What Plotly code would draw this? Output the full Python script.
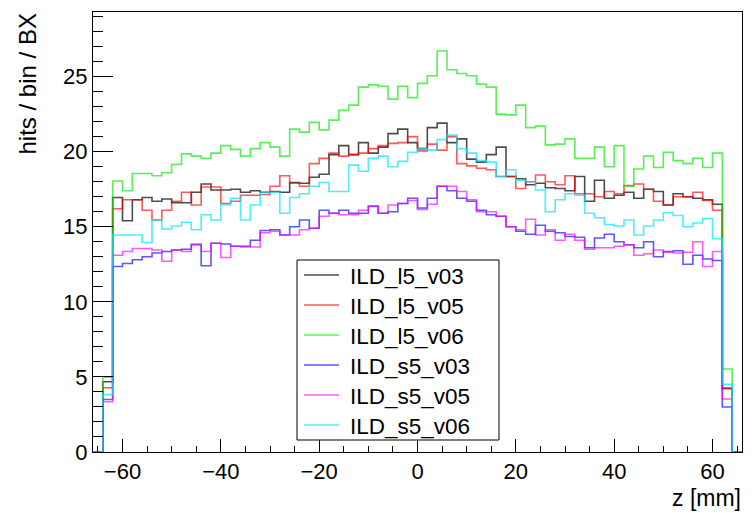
import numpy as np
import plotly.graph_objects as go

# histogram definition: 66 bins of 2 mm from -66 to 66
z_min, z_max, n_bins = -66.0, 66.0, 66
y_max = 29.3

names = ["ILD_l5_v03", "ILD_l5_v05", "ILD_l5_v06", "ILD_s5_v03", "ILD_s5_v05", "ILD_s5_v06"]

l5_v03 = [0, 4.68,
          16.95, 15.4, 16.8, 16.95, 16.7, 16.85, 16.6, 16.6, 17.3, 17.85, 17.45, 17.45, 17.5, 17.3, 17.4, 17.3,
          17.35, 17.3, 17.95, 17.9, 18.3, 18.5, 19.8, 20.4, 19.8, 20.6, 19.9, 20.3, 21.2, 21.5, 20.6, 20.2,
          21.6, 21.9, 20.6, 20.85, 19.5, 19.3, 19.8, 20.3, 18.35, 18.2, 17.8, 17.9, 17.6, 17.55, 17.4, 18.35,
          16.7, 18.1, 16.9, 17.1, 17.3, 16.9, 17.5, 17.35, 16.45, 17.2, 17.0, 16.9, 16.8, 16.5,
          4.24, 0]
l5_v05 = [0, 4.28,
          16.2, 16.8, 16.8, 16.1, 15.45, 16.1, 16.7, 17.3, 16.45, 17.65, 17.65, 16.55, 16.7, 17.1, 17.1, 17.15,
          17.7, 18.4, 17.9, 17.7, 19.2, 19.55, 19.9, 19.7, 19.8, 19.9, 20.2, 20.4, 20.55, 20.6, 21.0, 20.05,
          20.5, 20.1, 21.0, 19.2, 19.05, 18.9, 18.8, 18.35, 18.35, 17.55, 18.0, 18.45, 18.0, 17.8, 18.4, 17.2,
          17.2, 17.0, 17.35, 17.2, 17.75, 17.85, 17.5, 16.7, 16.45, 17.0, 17.0, 17.3, 16.75, 16.1,
          4.24, 0]
l5_v06 = [0, 4.98,
          18.05, 17.4, 18.55, 18.55, 18.4, 18.6, 19.15, 19.85, 19.7, 19.55, 19.9, 20.4, 20.15, 19.7, 20.2, 20.6,
          20.3, 19.7, 21.5, 21.3, 21.95, 21.45, 22.1, 22.75, 23.1, 24.3, 24.45, 24.35, 23.5, 24.35, 23.6, 24.55,
          25.05, 26.7, 25.45, 25.2, 25.05, 24.5, 24.3, 22.5, 22.45, 23.1, 21.6, 21.7, 20.45, 20.5, 20.85, 19.55,
          19.55, 20.3, 19.0, 20.4, 17.7, 18.85, 19.7, 18.95, 19.95, 19.4, 19.2, 19.55, 18.95, 19.9,
          5.53, 0]
s5_v03 = [0, 3.5,
          12.35, 12.55, 12.8, 13.0, 13.25, 13.35, 13.45, 13.5, 13.8, 12.4, 13.9, 13.85, 13.7, 13.7, 14.1, 14.75,
          14.8, 14.45, 15.0, 15.45, 14.9, 16.1, 15.9, 16.1, 15.9, 15.9, 16.35, 15.9, 16.0, 16.55, 16.9, 16.25,
          16.9, 17.7, 17.4, 16.9, 16.7, 16.1, 15.8, 15.7, 15.0, 14.7, 14.5, 15.1, 14.7, 14.6, 14.35, 14.3,
          13.6, 14.25, 14.5, 14.0, 13.8, 13.6, 14.0, 13.0, 13.35, 13.4, 12.5, 13.1, 12.85, 12.75,
          3.0, 0]
s5_v05 = [0, 3.35,
          13.1, 13.35, 13.55, 13.55, 13.45, 12.7, 13.45, 13.35, 13.85, 13.35, 13.9, 12.95, 13.7, 13.65, 13.65, 14.6,
          14.7, 14.45, 14.45, 14.8, 14.9, 15.7, 15.9, 15.8, 15.8, 16.1, 16.4, 15.9, 16.45, 16.55, 16.75, 16.15,
          16.5, 17.7, 17.7, 17.35, 16.8, 16.0, 16.0, 15.7, 15.0, 14.8, 15.5, 14.45, 14.8, 14.1, 14.5, 14.1,
          13.5, 13.6, 13.6, 13.7, 13.8, 13.1, 13.2, 13.45, 13.3, 13.25, 13.3, 14.0, 12.35, 13.35,
          3.53, 0]
s5_v06 = [0, 3.82,
          14.45, 14.45, 14.45, 13.95, 15.45, 14.85, 15.05, 15.3, 14.8, 15.8, 15.45, 16.45, 16.9, 15.45, 16.45, 17.3,
          17.3, 15.9, 16.95, 17.2, 17.7, 17.95, 17.35, 17.35, 19.1, 18.7, 19.55, 19.7, 19.0, 19.35, 19.95, 20.2,
          20.1, 20.8, 21.1, 20.2, 19.9, 19.4, 19.3, 18.35, 18.8, 18.1, 18.0, 17.45, 16.0, 16.8, 17.2, 17.1,
          15.9, 15.6, 15.15, 15.05, 15.45, 14.45, 15.05, 15.45, 15.95, 15.75, 15.0, 15.25, 15.55, 14.2,
          4.5, 0]

series = [l5_v03, l5_v05, l5_v06, s5_v03, s5_v05, s5_v06]
colors = ["rgba(0,0,0,0.7)", "rgba(255,0,0,0.65)", "rgba(0,230,0,0.65)",
          "rgba(0,0,255,0.65)", "rgba(255,0,255,0.65)", "rgba(0,230,255,0.7)"]

x_ticks = [-60, -40, -20, 0, 20, 40, 60]
x_tick_text = ["\u221260", "\u221240", "\u221220", "0", "20", "40", "60"]
y_ticks = [0, 5, 10, 15, 20, 25]

edges = np.linspace(z_min, z_max, n_bins + 1)

FONT = "Liberation Sans, Arial, Helvetica, sans-serif"

# plot-area geometry in pixels (for legend placement)
W, H = 752, 513
ML, MR, MT, MB = 93, 10, 12, 61
PW, PH = W - ML - MR, H - MT - MB


def px_x(p):
    return (p - ML) / PW


def px_y(p):
    return (H - MB - p) / PH


fig = go.Figure()
for name, vals, col in zip(names, series, colors):
    yv = list(vals) + [vals[-1]]
    fig.add_trace(go.Scatter(x=edges, y=yv, mode="lines", name=name,
                             line=dict(color=col, width=1.6, shape="hv")))

fig.update_layout(
    width=W, height=H,
    margin=dict(l=ML, r=MR, t=MT, b=MB),
    paper_bgcolor="white", plot_bgcolor="white",
    font=dict(family=FONT, size=22, color="black"),
    showlegend=False,
    xaxis=dict(range=[z_min, z_max], tickvals=x_ticks, ticktext=x_tick_text,
               ticks="inside", ticklen=13, tickcolor="black", tickwidth=1,
               minor=dict(ticks="inside", ticklen=6.5, dtick=5, tick0=0, tickcolor="black"),
               showgrid=False, zeroline=False, showline=True, linecolor="black",
               linewidth=1, mirror=True, tickfont=dict(size=22)),
    yaxis=dict(range=[0, y_max], tickvals=y_ticks,
               ticks="inside", ticklen=19.5, tickcolor="black", tickwidth=1,
               minor=dict(ticks="inside", ticklen=9.7, dtick=1, tick0=0, tickcolor="black"),
               showgrid=False, zeroline=False, showline=True, linecolor="black",
               linewidth=1, mirror=True, tickfont=dict(size=22)),
)

# axis titles (ROOT style: right / top aligned)
fig.add_annotation(text="z [mm]", xref="paper", yref="paper", x=1.0, y=px_y(484),
                   xanchor="right", yanchor="top", showarrow=False, borderpad=0,
                   font=dict(family=FONT, size=23))
fig.add_annotation(text="hits / bin / BX", xref="paper", yref="paper",
                   x=px_x(27), y=1.0, xanchor="center", yanchor="top", textangle=-90,
                   showarrow=False, font=dict(family=FONT, size=24))

# legend box (ROOT TLegend look)
box_l, box_r, box_t, box_b = 297, 499, 260, 440
fig.add_shape(type="rect", xref="paper", yref="paper",
              x0=px_x(box_l), x1=px_x(box_r), y0=px_y(box_b), y1=px_y(box_t),
              line=dict(color="black", width=1), fillcolor="white", layer="above")
row_h = (box_b - box_t) / len(names)
for k, (name, col) in enumerate(zip(names, colors)):
    yc = box_t + row_h * (k + 0.5)
    fig.add_shape(type="line", xref="paper", yref="paper",
                  x0=px_x(304), x1=px_x(339), y0=px_y(yc), y1=px_y(yc),
                  line=dict(color=col, width=1.6), layer="above")
    fig.add_annotation(text=name, xref="paper", yref="paper", x=px_x(348), y=px_y(yc + 1),
                       xanchor="left", yanchor="middle", showarrow=False,
                       font=dict(family=FONT, size=22.5, color="black"))

fig.write_html("out.html")
